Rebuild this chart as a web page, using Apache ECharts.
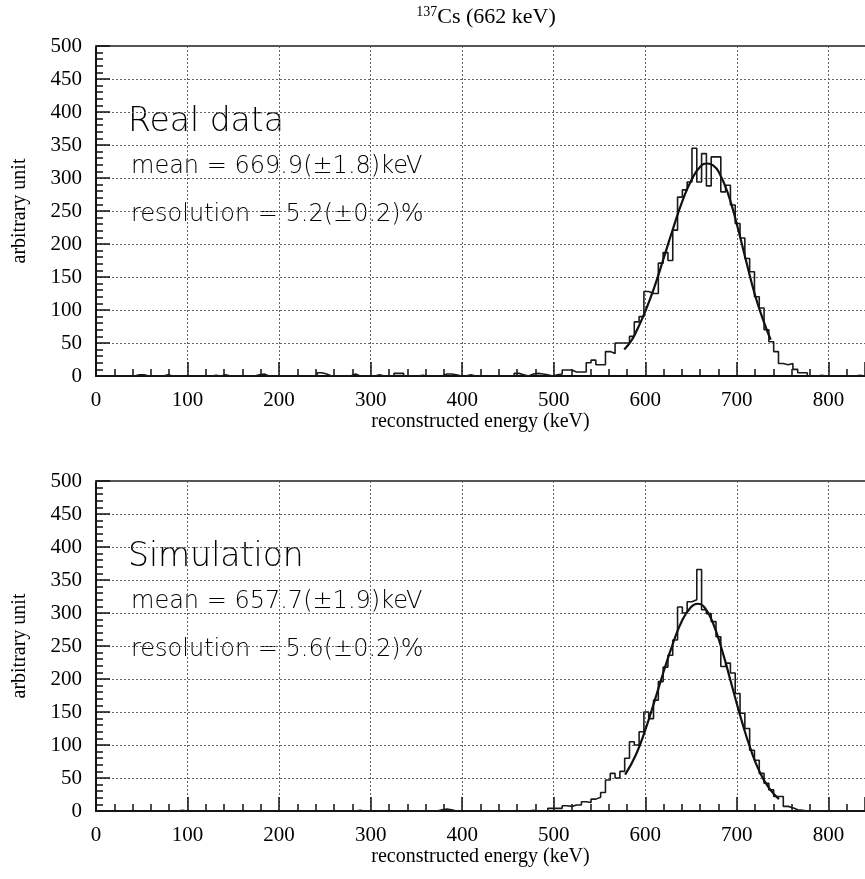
<!DOCTYPE html>
<html>
<head>
<meta charset="utf-8">
<script src="https://cdn.jsdelivr.net/npm/echarts@6/dist/echarts.min.js"></script>
<style>
html,body{margin:0;padding:0;background:#fff}
#chart{width:865px;height:879px}
</style>
</head>
<body>
<div id="chart"></div>
<script>
// histogram binning (keV)
var binWidth = 5.25;
var xMax = 840;

// 137Cs real data, counts per bin (160 bins)
var realCounts = [
  0,0,0,0,0,0,0,0,2,2, 0,0,0,0,2,0,0,0,0,0,
  0,0,0,0,1,0,2,0,0,0, 0,0,0,2,3,0,0,0,0,0,
  0,0,0,0,0,0,5,3,0,0, 0,0,0,3,0,0,0,0,2,0,
  0,0,4,4,0,0,0,1,0,0, 0,0,3,3,2,0,0,2,0,0,
  0,0,0,0,0,0,0,4,2,0, 3,4,3,2,0,2,3,9,9,6,
  6,6,20,24,17,17,37,34,50,50, 50,60,82,90,128,125,125,171,187,175,
  221,271,282,294,345,294,337,288,332,332, 279,289,259,231,209,178,158,120,103,70,
  52,37,19,17,19,10,5,5,0,0, 1,0,0,0,0,0,0,0,1,0
];

// simulation, counts per bin
var simCounts = [
  0,0,0,0,0,0,0,0,0,0, 0,0,0,0,0,0,0,1,0,0,
  0,0,0,0,0,0,0,0,0,0, 0,0,0,0,0,0,0,0,0,0,
  0,0,0,0,0,0,0,0,0,0, 0,0,0,0,1,0,0,0,0,0,
  0,0,0,0,0,0,0,0,0,0, 0,2,3,2,0,0,0,0,0,0,
  0,0,0,0,0,0,0,0,0,0, 1,0,0,0,4,4,4,8,7,9,
  9,14,13,18,21,28,47,57,50,60, 80,105,100,120,150,140,168,196,218,236,
  259,309,300,317,320,366,305,299,287,264, 219,224,209,178,148,125,92,77,57,42,
  32,22,22,7,5,2,1,0,0,0, 0,0,0,0,0,0,0,0,0,0
];

// gaussian fit curves [keV, counts]
var realFit = [
  [577,40],[585,54],[590,67],[600,98],[610,135],[620,178],[630,222],[640,263],
  [650,296],[660,317],[668,322],[675,318],[680,310],[690,278],[700,230],
  [710,175],[720,122],[730,80],[737,55]
];
var simFit = [
  [578,55],[590,86],[600,123],[610,166],[620,211],[630,253],[640,288],[650,309],
  [657,314],[665,308],[675,281],[685,238],[695,188],[705,138],[715,94],
  [725,59],[735,35],[746,18]
];

var realText = ['Real data', 'mean = 669.9(\u00b11.8)keV', 'resolution = 5.2(\u00b10.2)%'];
var simText = ['Simulation', 'mean = 657.7(\u00b11.9)keV', 'resolution = 5.6(\u00b10.2)%'];

function stepData(counts) {
  var pts = counts.map(function (c, i) { return [i * binWidth, c]; });
  pts.push([counts.length * binWidth, counts[counts.length - 1]]);
  return pts;
}

var serif = 'Liberation Serif';
var panelTops = [46, 481];
var panelH = 330;

var grids = [], xAxes = [], yAxes = [], series = [], texts = [];

panelTops.forEach(function (top, g) {
  grids.push({ left: 96, top: top, width: 770, height: panelH });
  xAxes.push({
    type: 'value', gridIndex: g, min: 0, max: xMax, interval: 100,
    name: 'reconstructed energy (keV)', nameLocation: 'middle', nameGap: 36,
    nameTextStyle: { fontFamily: serif, fontSize: 20, color: '#000' },
    axisLine: { show: true, lineStyle: { color: '#111', width: 2 } },
    axisTick: { show: true, inside: true, length: 14, lineStyle: { color: '#111', width: 1.5 } },
    minorTick: { show: true, splitNumber: 5, length: 7, lineStyle: { color: '#111', width: 1.5 } },
    axisLabel: { fontFamily: serif, fontSize: 21, color: '#000', margin: 14, showMaxLabel: false,
      formatter: function (v) { return v > 800 ? '' : v; } },
    splitLine: { show: true, lineStyle: { color: '#666', type: [2, 2], width: 1 } }
  });
  xAxes.push({
    type: 'value', gridIndex: g, min: 0, max: xMax, position: 'top',
    axisLine: { show: true, lineStyle: { color: '#555', width: 2 } },
    axisTick: { show: false }, axisLabel: { show: false }, splitLine: { show: false }
  });
  yAxes.push({
    type: 'value', gridIndex: g, min: 0, max: 500, interval: 50,
    name: 'arbitrary unit', nameLocation: 'middle', nameGap: 66, nameRotate: 90,
    nameTextStyle: { fontFamily: serif, fontSize: 20, color: '#000' },
    axisLine: { show: true, lineStyle: { color: '#111', width: 2 } },
    axisTick: { show: true, inside: true, length: 14, lineStyle: { color: '#111', width: 1.5 } },
    minorTick: { show: true, splitNumber: 5, length: 7, lineStyle: { color: '#111', width: 1.5 } },
    axisLabel: { fontFamily: serif, fontSize: 21, color: '#000', margin: 14 },
    splitLine: { show: true, lineStyle: { color: '#666', type: [2, 2], width: 1 } }
  });
});

[[realCounts, realFit], [simCounts, simFit]].forEach(function (d, g) {
  series.push({
    type: 'line', xAxisIndex: g * 2, yAxisIndex: g, data: stepData(d[0]), step: 'end',
    showSymbol: false, lineStyle: { color: '#1a1a1a', width: 1.6 }, z: 3
  });
  series.push({
    type: 'line', xAxisIndex: g * 2, yAxisIndex: g, data: d[1], smooth: true,
    showSymbol: false, lineStyle: { color: '#111', width: 2.2 }, z: 4
  });
});

[realText, simText].forEach(function (t, g) {
  var off = panelTops[g];
  var sizes = [33, 24, 24];
  var ys = [80, 123, 171];
  var xs = [128, 131, 131];
  t.forEach(function (s, i) {
    texts.push({
      type: 'text', left: xs[i], top: off + ys[i] - sizes[i] * 0.6,
      style: { text: s, fontFamily: 'DejaVu Sans', fontWeight: 200, fontSize: sizes[i], fill: '#000' }
    });
  });
});

var chart = echarts.init(document.getElementById('chart'));
chart.setOption({
  animation: false,
  backgroundColor: '#fff',
  title: {
    text: '{sup|137}Cs (662 keV)', left: 481, top: 0, textAlign: 'center',
    textStyle: {
      fontFamily: serif, fontSize: 22, fontWeight: 'normal', color: '#000',
      rich: { sup: { fontFamily: serif, fontSize: 14, verticalAlign: 'top', padding: [0, 0, 10, 0] } }
    }
  },
  grid: grids,
  xAxis: xAxes,
  yAxis: yAxes,
  series: series,
  graphic: texts
});
</script>
</body>
</html>
